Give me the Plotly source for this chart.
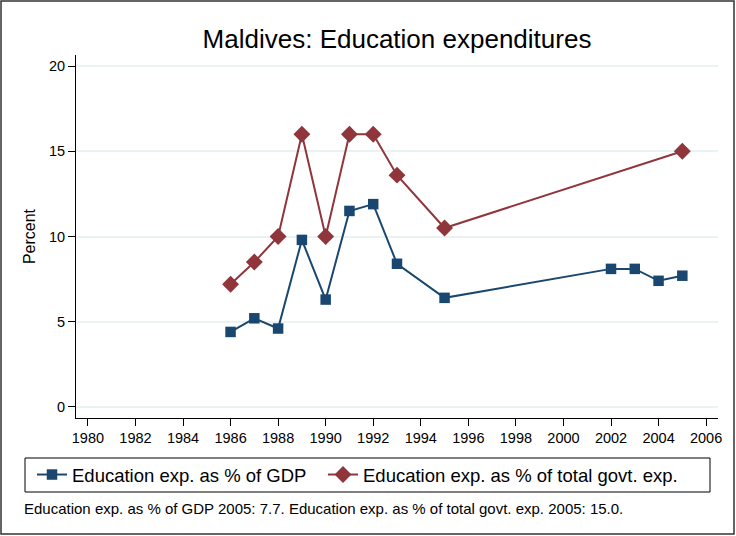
import plotly.graph_objects as go

years_gdp = [1986, 1987, 1988, 1989, 1990, 1991, 1992, 1993, 1995, 2002, 2003, 2004, 2005]
gdp = [4.4, 5.2, 4.6, 9.8, 6.3, 11.5, 11.9, 8.4, 6.4, 8.1, 8.1, 7.4, 7.7]
years_gov = [1986, 1987, 1988, 1989, 1990, 1991, 1992, 1993, 1995, 2005]
gov = [7.2, 8.5, 10.0, 16.0, 10.0, 16.0, 16.0, 13.6, 10.5, 15.0]
x_ticks = list(range(1980, 2007, 2))
y_ticks = [0, 5, 10, 15, 20]

BLUE = "#1a476f"
RED = "#90353b"
FONT = "Liberation Sans"

L, R, T, B = 76, 18, 55, 118
W, H = 736, 536
PW, PH = W - L - R, H - T - B

def px(x):
    return (x - L) / PW

def py(y):
    return (H - B - y) / PH

fig = go.Figure()
fig.add_trace(go.Scatter(x=years_gdp, y=gdp, mode="lines+markers",
                         name="Education exp. as % of GDP",
                         line=dict(color=BLUE, width=2),
                         marker=dict(symbol="square", size=10.5, color=BLUE),
                         legend="legend"))
fig.add_trace(go.Scatter(x=years_gov, y=gov, mode="lines+markers",
                         name="Education exp. as % of total govt. exp.",
                         line=dict(color=RED, width=2),
                         marker=dict(symbol="diamond", size=13, color=RED),
                         legend="legend2"))

leg_common = dict(orientation="h", yanchor="middle", xanchor="left",
                  bgcolor="rgba(0,0,0,0)", borderwidth=0, font=dict(size=18.5),
                  itemwidth=30)

fig.update_layout(
    width=W, height=H,
    margin=dict(l=L, r=R, t=T, b=B),
    paper_bgcolor="white", plot_bgcolor="white",
    font=dict(family=FONT, color="black", size=14),
    title=dict(text="Maldives: Education expenditures", x=px(397), xref="paper",
               xanchor="center", y=1 - 39 / H, yanchor="middle",
               font=dict(size=26, family=FONT)),
    xaxis=dict(range=[1979.5, 2006.5], tickvals=x_ticks, ticks="outside", ticklen=7,
               tickcolor="black", showline=True, linecolor="black", linewidth=1,
               showgrid=False, zeroline=False, tickfont=dict(size=14.5)),
    yaxis=dict(range=[-0.65, 20.65], tickvals=y_ticks, ticks="outside", ticklen=7,
               tickcolor="black", showline=True, linecolor="black", linewidth=1,
               showgrid=True, gridcolor="#eaf2f3", gridwidth=1.5, zeroline=False,
               title=dict(text="Percent", font=dict(size=16), standoff=9),
               tickfont=dict(size=14.5)),
    showlegend=True,
    legend=dict(x=px(32), y=py(475), **leg_common),
    legend2=dict(x=px(323), y=py(475), **leg_common),
)

# legend box
fig.add_shape(type="rect", xref="paper", yref="paper",
              x0=px(25), x1=px(710), y0=py(492), y1=py(458),
              line=dict(color="black", width=1), fillcolor="rgba(0,0,0,0)")
# outer frame
fig.add_shape(type="rect", xref="paper", yref="paper",
              x0=px(1), x1=px(734), y0=py(534), y1=py(1),
              line=dict(color="#333333", width=1.5), fillcolor="rgba(0,0,0,0)")

fig.add_annotation(text="Education exp. as % of GDP 2005: 7.7. Education exp. as % of total govt. exp. 2005: 15.0.",
                   xref="paper", yref="paper", x=px(22), y=py(508), xanchor="left",
                   yanchor="middle", showarrow=False, font=dict(size=15))

fig.write_html("out.html", config={"displayModeBar": False},
               post_script="document.body.style.margin='0';document.body.style.overflow='hidden';")
